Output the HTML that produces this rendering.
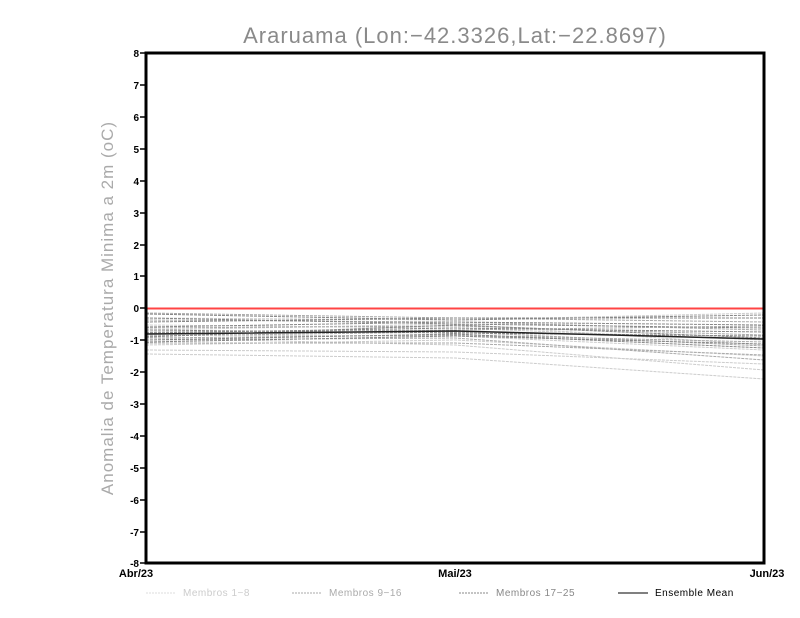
<!DOCTYPE html>
<html><head><meta charset="utf-8"><style>body{margin:0;background:#fff}svg{display:block}</style></head>
<body>
<svg width="800" height="618" xmlns="http://www.w3.org/2000/svg" font-family="Liberation Sans, sans-serif">
<rect width="800" height="618" fill="#fff"/>
<text x="455" y="43" text-anchor="middle" font-size="22" fill="#8a8a8a" letter-spacing="1">Araruama (Lon:−42.3326,Lat:−22.8697)</text>
<text transform="translate(113,308) rotate(-90)" text-anchor="middle" font-size="17" fill="#aaa" letter-spacing="1">Anomalia de Temperatura Minima a 2m (oC)</text>
<g font-size="10" font-weight="bold" text-anchor="end" fill="#000">
<text x="139" y="57">8</text><text x="139" y="89">7</text><text x="139" y="121">6</text><text x="139" y="153">5</text><text x="139" y="185">4</text><text x="139" y="217">3</text><text x="139" y="249">2</text><text x="139" y="280">1</text><text x="139" y="312">0</text><text x="139" y="344">-1</text><text x="139" y="376">-2</text><text x="139" y="408">-3</text><text x="139" y="440">-4</text><text x="139" y="472">-5</text><text x="139" y="504">-6</text><text x="139" y="536">-7</text><text x="139" y="567">-8</text>
</g>
<g stroke="#000" stroke-width="1.5">
<line x1="140" y1="53" x2="146" y2="53"/><line x1="140" y1="85" x2="146" y2="85"/><line x1="140" y1="117" x2="146" y2="117"/><line x1="140" y1="149" x2="146" y2="149"/><line x1="140" y1="181" x2="146" y2="181"/><line x1="140" y1="213" x2="146" y2="213"/><line x1="140" y1="245" x2="146" y2="245"/><line x1="140" y1="276" x2="146" y2="276"/><line x1="140" y1="308" x2="146" y2="308"/><line x1="140" y1="340" x2="146" y2="340"/><line x1="140" y1="372" x2="146" y2="372"/><line x1="140" y1="404" x2="146" y2="404"/><line x1="140" y1="436" x2="146" y2="436"/><line x1="140" y1="468" x2="146" y2="468"/><line x1="140" y1="500" x2="146" y2="500"/><line x1="140" y1="532" x2="146" y2="532"/><line x1="140" y1="563" x2="146" y2="563"/>
</g>
<g font-size="11" font-weight="bold" fill="#000" text-anchor="middle">
<text x="136" y="577">Abr/23</text><text x="455" y="577">Mai/23</text><text x="767" y="577">Jun/23</text>
</g>
<g fill="none" stroke-width="1" stroke-dasharray="3,1">
<polyline stroke="#ccc" points="146,338 455,345 764,370"/>
<polyline stroke="#ccc" points="146,354 455,358 764,379"/>
<polyline stroke="#ccc" points="146,350 455,352 764,364"/>
<polyline stroke="#ccc" points="146,345 455,340 764,356"/>
<polyline stroke="#ccc" points="146,335 455,336 764,350"/>
<polyline stroke="#ccc" points="146,325 455,328 764,340"/>
<polyline stroke="#ccc" points="146,318 455,320 764,313"/>
<polyline stroke="#ccc" points="146,330 455,324 764,345"/>
<polyline stroke="#aaa" points="146,313 455,318 764,322"/>
<polyline stroke="#aaa" points="146,320 455,322 764,330"/>
<polyline stroke="#aaa" points="146,328 455,326 764,335"/>
<polyline stroke="#aaa" points="146,336 455,332 764,346"/>
<polyline stroke="#aaa" points="146,340 455,338 764,360"/>
<polyline stroke="#aaa" points="146,343 455,343 764,355"/>
<polyline stroke="#aaa" points="146,332 455,330 764,326"/>
<polyline stroke="#aaa" points="146,338 455,335 764,342"/>
<polyline stroke="#888" points="146,314 455,320 764,315"/>
<polyline stroke="#888" points="146,322 455,318 764,318"/>
<polyline stroke="#888" points="146,327 455,322 764,325"/>
<polyline stroke="#888" points="146,333 455,328 764,332"/>
<polyline stroke="#888" points="146,337 455,325 764,338"/>
<polyline stroke="#888" points="146,340 455,334 764,348"/>
<polyline stroke="#888" points="146,330 455,333 764,336"/>
<polyline stroke="#888" points="146,342 455,336 764,344"/>
<polyline stroke="#888" points="146,318 455,324 764,328"/>
</g>
<line x1="146" y1="308.5" x2="764" y2="308.5" stroke="#f44" stroke-width="2"/>
<polyline fill="none" stroke="#222" stroke-width="1.5" points="146,334 455,331 764,339"/>
<rect x="146" y="53" width="618" height="510" fill="none" stroke="#000" stroke-width="3"/>
<g font-size="10" letter-spacing="0.5">
<line x1="146" y1="593" x2="176" y2="593" stroke="#ddd" stroke-dasharray="2,1"/><text x="183" y="596" fill="#ccc">Membros 1−8</text>
<line x1="292" y1="593" x2="322" y2="593" stroke="#aaa" stroke-dasharray="2,1"/><text x="329" y="596" fill="#aaa">Membros 9−16</text>
<line x1="459" y1="593" x2="489" y2="593" stroke="#888" stroke-dasharray="2,1"/><text x="496" y="596" fill="#888">Membros 17−25</text>
<line x1="618" y1="593" x2="648" y2="593" stroke="#000"/><text x="655" y="596" fill="#000">Ensemble Mean</text>
</g>
</svg>
</body></html>
